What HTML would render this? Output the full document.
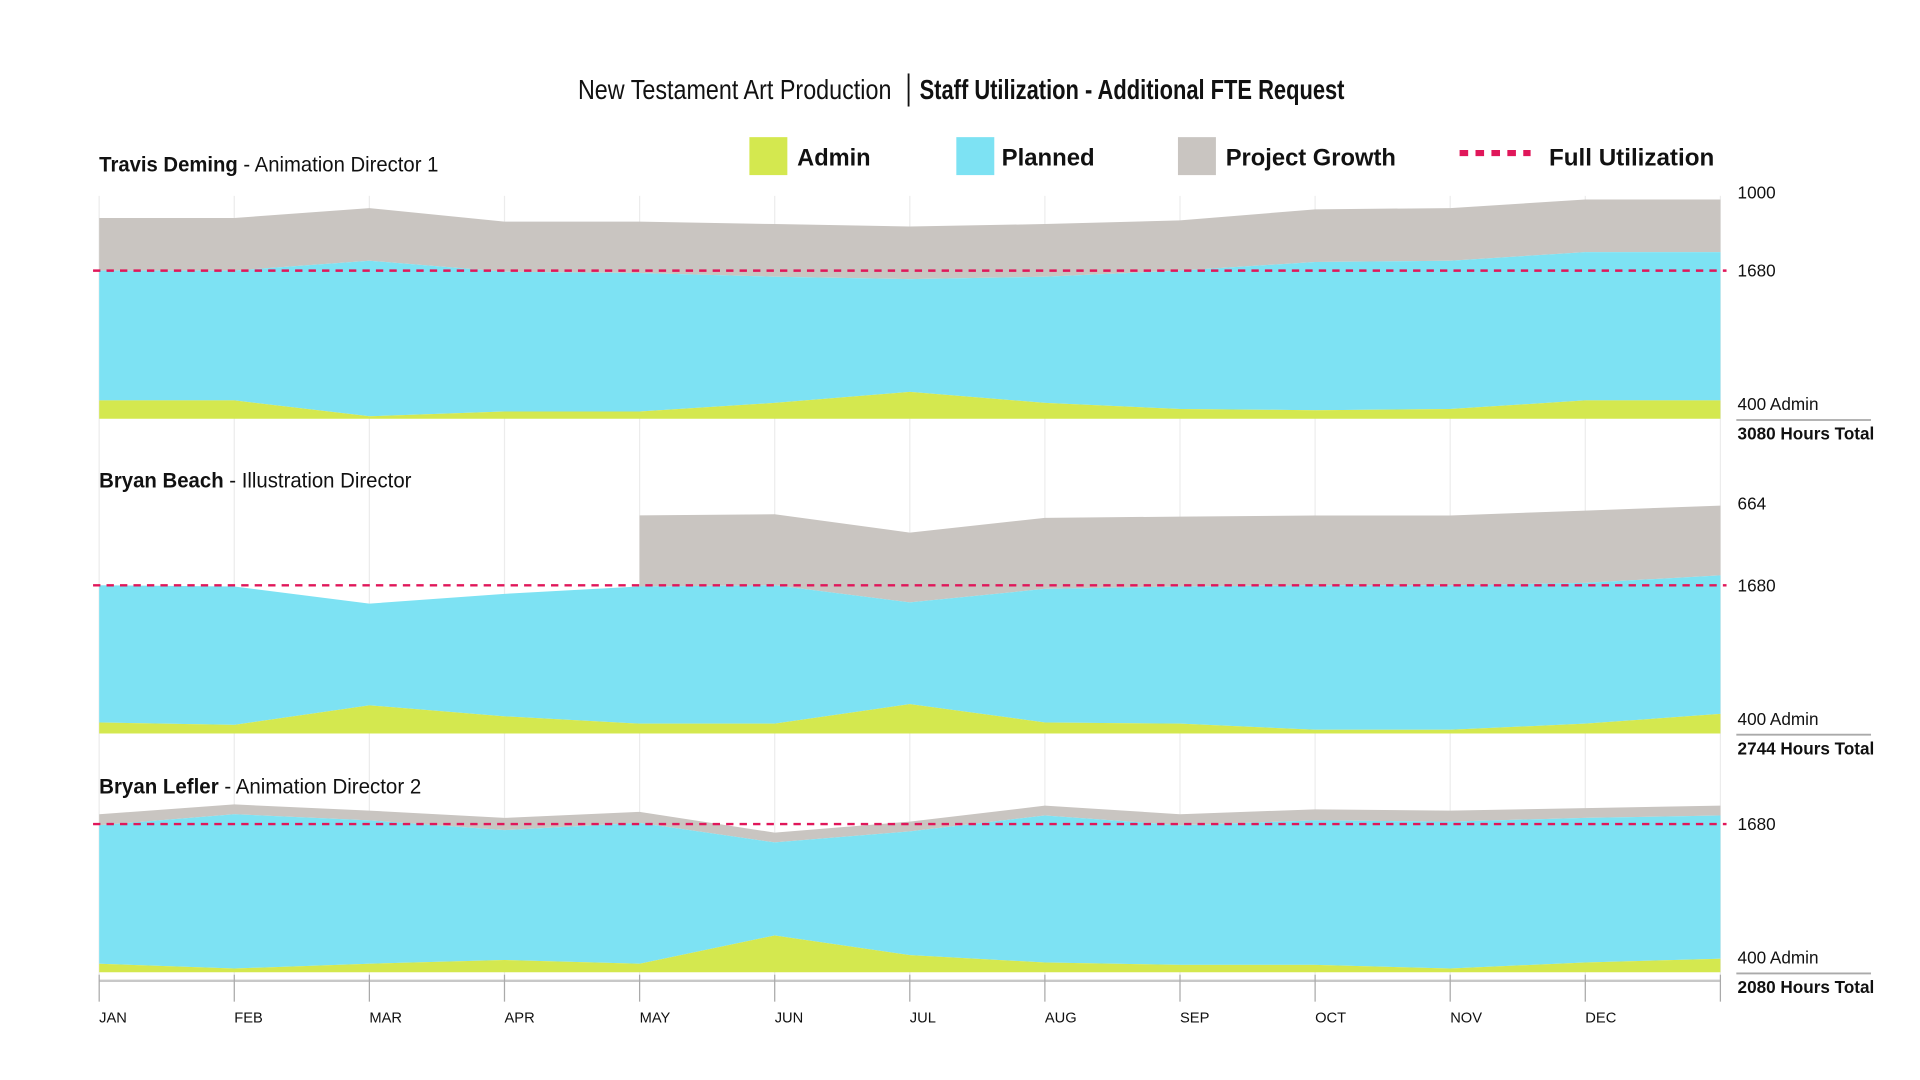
<!DOCTYPE html>
<html><head><meta charset="utf-8"><style>
html,body{margin:0;padding:0;background:#fff;}
svg{display:block;font-family:"Liberation Sans",sans-serif;}
</style></head><body>
<svg id="chart" width="1920" height="1080" viewBox="0 0 1568 882" preserveAspectRatio="none" xmlns="http://www.w3.org/2000/svg">
<g>
<text x="472" y="81" font-size="23" fill="#111" textLength="256" lengthAdjust="spacingAndGlyphs">New Testament Art Production</text>
<line x1="742" y1="60" x2="742" y2="87" stroke="#111" stroke-width="1.5"/>
<text x="751" y="81" font-size="23" font-weight="bold" fill="#111" textLength="347" lengthAdjust="spacingAndGlyphs">Staff Utilization - Additional FTE Request</text>
</g>
<g>
<g><rect x="612" y="112" width="31" height="31" fill="#d4e84f"/><text x="651" y="135" font-size="20" font-weight="bold" fill="#111" textLength="60" lengthAdjust="spacingAndGlyphs">Admin</text></g>
<g><rect x="781" y="112" width="31" height="31" fill="#7de2f3"/><text x="818" y="135" font-size="20" font-weight="bold" fill="#111" textLength="76" lengthAdjust="spacingAndGlyphs">Planned</text></g>
<g><rect x="962" y="112" width="31" height="31" fill="#c9c5c1"/><text x="1001" y="135" font-size="20" font-weight="bold" fill="#111" textLength="139" lengthAdjust="spacingAndGlyphs">Project Growth</text></g>
<g><line x1="1192" y1="125" x2="1250" y2="125" stroke="#e0175a" stroke-width="5" stroke-dasharray="7,6"/><text x="1265" y="135" font-size="20" font-weight="bold" fill="#111" textLength="135" lengthAdjust="spacingAndGlyphs">Full Utilization</text></g>
</g>
<g id="grid"></g>
<g id="panels"></g>
<g id="axis"></g>
</svg>
<script>
const months = ["JAN","FEB","MAR","APR","MAY","JUN","JUL","AUG","SEP","OCT","NOV","DEC",""];
const fullUtil = 1680;
const p1Admin   = [208,208,28,83,83,180,305,180,111,97,111,208,208];
const p1Planned = [1472,1472,1764,1584,1570,1431,1278,1431,1569,1681,1681,1681,1681];
const p1Growth  = [597,597,597,569,583,597,597,597,569,597,597,597,597];
const p2Admin   = [125,97,319,194,111,111,333,125,111,42,42,111,222];
const p2Planned = [1555,1570,1153,1389,1556,1569,1153,1514,1556,1638,1638,1597,1570];
const p2Growth  = [null,null,null,null,806,806,792,806,792,792,792,819,792];
const p3Admin   = [97,42,97,139,97,417,194,111,83,83,42,111,153];
const p3Planned = [1570,1750,1625,1472,1597,1055,1403,1667,1584,1639,1666,1639,1625];
const p3Growth  = [125,111,111,139,125,111,111,111,125,125,125,111,111];
const panelNames = ["Travis Deming","Bryan Beach","Bryan Lefler"];
const panelRoles = [" - Animation Director 1"," - Illustration Director"," - Animation Director 2"];
const topLabels = ["1000","664",null];
const totalLabels = ["3080 Hours Total","2744 Hours Total","2080 Hours Total"];

const NS="http://www.w3.org/2000/svg";
const x0=81, x1=1405;
const xAt=i=>x0+(x1-x0)*i/(months.length-1);
const k=121/1680;
const titleLens=[277,255,263];
function mk(tag,attrs,parent){const e=document.createElementNS(NS,tag);for(const a in attrs)e.setAttribute(a,attrs[a]);parent.appendChild(e);return e;}
const grid=document.getElementById('grid'), panels=document.getElementById('panels'), axis=document.getElementById('axis');
for(let i=0;i<months.length;i++){
  const l=mk('line',{x1:xAt(i),x2:xAt(i),y1:160,y2:818,stroke:'#ececec','stroke-width':1},grid);
  
  
}
const sets=[[p1Admin,p1Planned,p1Growth],[p2Admin,p2Planned,p2Growth],[p3Admin,p3Planned,p3Growth]];
const baselines=[342,599,794];
const titleY=[140,398,648];
sets.forEach((s,pi)=>{
  const base=baselines[pi];
  const yS=v=>base-v*k;
  const g=mk('g',{},panels);
  
  
  const [ad,pl,gr]=s;
  const c1=ad.map(v=>v), c2=ad.map((v,i)=>v+pl[i]);
  function area(lo,hi,fill,name,valid){
    let segs=[],cur=[];
    for(let i=0;i<lo.length;i++){ if(valid(i)) cur.push(i); else {if(cur.length)segs.push(cur);cur=[];} }
    if(cur.length)segs.push(cur);
    segs.forEach(seg=>{
      let d='M'+seg.map(i=>xAt(i)+','+yS(hi[i])).join(' L');
      d+=' L'+seg.slice().reverse().map(i=>xAt(i)+','+yS(lo[i])).join(' L')+' Z';
      const p=mk('path',{d:d,fill:fill},g);
      
      
    });
  }
  const c3=c2.map((v,i)=>gr[i]==null?v:v+gr[i]);
  area(c2,c3,'#c9c5c1','project-growth-area',i=>gr[i]!=null);
  area(c1,c2,'#7de2f3','planned-area',i=>true);
  area(ad.map(()=>0),c1,'#d4e84f','admin-area',i=>true);
  const fl=mk('line',{x1:76,x2:1410,y1:yS(fullUtil),y2:yS(fullUtil),stroke:'#e0175a','stroke-width':2,'stroke-dasharray':'6,5'},g);
  
  
  const t=mk('text',{x:81,y:titleY[pi],'font-size':17,fill:'#111',textLength:titleLens[pi],lengthAdjust:'spacingAndGlyphs'},g);
  
  
  const b=mk('tspan',{'font-weight':'bold'},t); b.textContent=panelNames[pi];
  const r=mk('tspan',{},t); r.textContent=panelRoles[pi];
  const lab=(txt,y,bold,name)=>{const e=mk('text',{x:1419,y:y,'font-size':14,'font-weight':bold?'bold':'normal',fill:'#111'},g);e.textContent=txt;
    
    };
  if(topLabels[pi]) lab(topLabels[pi],pi==0?162:416,false,'growth-label');
  lab(String(fullUtil),yS(fullUtil)+5,false,'full-utilization-label');
  lab('400 Admin',base-7,false,'admin-label');
  const sl=mk('line',{x1:1418,x2:1528,y1:base+1,y2:base+1,stroke:'#aaa','stroke-width':1.5},g);
  
  
  lab(totalLabels[pi],base+17,true,'hours-total-label');
});
const ax=mk('line',{x1:x0,x2:x1,y1:801,y2:801,stroke:'#c8c8c8','stroke-width':2},axis);


months.forEach((m,i)=>{
  const tk=mk('line',{x1:xAt(i),x2:xAt(i),y1:796,y2:818,stroke:'#aaa','stroke-width':1},axis);
  
  
  if(m){const t=mk('text',{x:xAt(i),y:835,'font-size':12,fill:'#111'},axis);t.textContent=m;
    
    }
});
</script>
</body></html>
